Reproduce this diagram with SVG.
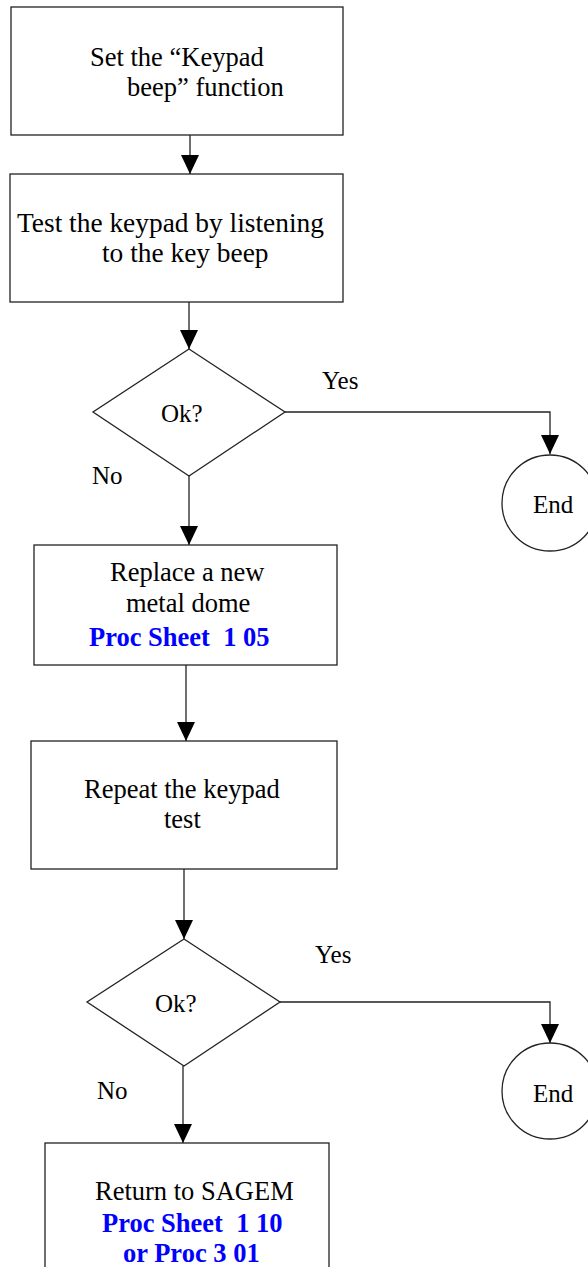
<svg xmlns="http://www.w3.org/2000/svg" width="588" height="1267" viewBox="0 0 588 1267">
<style>
.box{fill:#fff;stroke:#222;stroke-width:1.3}
.ln{fill:none;stroke:#222;stroke-width:1.3}
.t{font-family:"Liberation Serif","Times New Roman",serif;font-size:26.5px;fill:#000}
.t2{font-family:"Liberation Serif","Times New Roman",serif;font-size:27.4px;fill:#000}
.l{font-family:"Liberation Serif","Times New Roman",serif;font-size:25px;fill:#000}
.b{font-family:"Liberation Serif","Times New Roman",serif;font-size:26.5px;font-weight:bold;fill:#0000FF}
</style>
<defs>
<marker id="ah" markerUnits="userSpaceOnUse" markerWidth="18" markerHeight="20" refX="9" refY="19" orient="0" viewBox="0 0 18 20">
<path d="M0,0 L18,0 L9,19 Z" fill="#000"/>
</marker>
</defs>
<g id="connectors">
<line class="ln" x1="190" y1="135" x2="190" y2="174" marker-end="url(#ah)"/>
<line class="ln" x1="189" y1="302" x2="189" y2="349" marker-end="url(#ah)"/>
<polyline class="ln" points="285,412 550,412 550,454" marker-end="url(#ah)"/>
<line class="ln" x1="189" y1="476" x2="189" y2="545" marker-end="url(#ah)"/>
<line class="ln" x1="186" y1="665" x2="186" y2="741" marker-end="url(#ah)"/>
<line class="ln" x1="184" y1="869" x2="184" y2="939" marker-end="url(#ah)"/>
<polyline class="ln" points="280,1002 550,1002 550,1043" marker-end="url(#ah)"/>
<line class="ln" x1="183" y1="1066" x2="183" y2="1143" marker-end="url(#ah)"/>
<text class="l" x="322" y="389">Yes</text>
<text class="l" x="92" y="484">No</text>
<text class="l" x="315" y="963">Yes</text>
<text class="l" x="97" y="1099">No</text>
</g>
<g id="n1">
<rect class="box" x="11" y="7" width="332" height="128"/>
<text class="t" x="90" y="66">Set the “Keypad</text>
<text class="t" x="127" y="96">beep” function</text>
</g>
<g id="n2">
<rect class="box" x="10" y="174" width="333" height="128"/>
<text class="t2" x="17" y="232">Test the keypad by listening</text>
<text class="t2" x="102" y="262">to the key beep</text>
</g>
<g id="d1">
<polygon class="box" points="189,349 285,412 189,476 93,412"/>
<text class="l" x="161" y="422">Ok?</text>
</g>
<g id="e1">
<circle class="box" cx="550" cy="503" r="48"/>
<text class="l" x="533" y="513">End</text>
</g>
<g id="n3">
<rect class="box" x="34" y="545" width="303" height="120"/>
<text class="t" x="110" y="581">Replace a new</text>
<text class="t" x="126" y="612">metal dome</text>
<text class="b" x="89" y="646" xml:space="preserve">Proc Sheet  1 05</text>
</g>
<g id="n4">
<rect class="box" x="31" y="741" width="306" height="128"/>
<text class="t" x="84" y="798">Repeat the keypad</text>
<text class="t" x="164" y="828">test</text>
</g>
<g id="d2">
<polygon class="box" points="184,939 280,1002 184,1066 87,1002"/>
<text class="l" x="155" y="1012">Ok?</text>
</g>
<g id="e2">
<circle class="box" cx="550" cy="1091" r="48"/>
<text class="l" x="533" y="1102">End</text>
</g>
<g id="n5">
<rect class="box" x="45" y="1143" width="284" height="140"/>
<text class="t" x="95" y="1200">Return to SAGEM</text>
<text class="b" x="102" y="1232" xml:space="preserve">Proc Sheet  1 10</text>
<text class="b" x="123" y="1262">or Proc 3 01</text>
</g>
</svg>
